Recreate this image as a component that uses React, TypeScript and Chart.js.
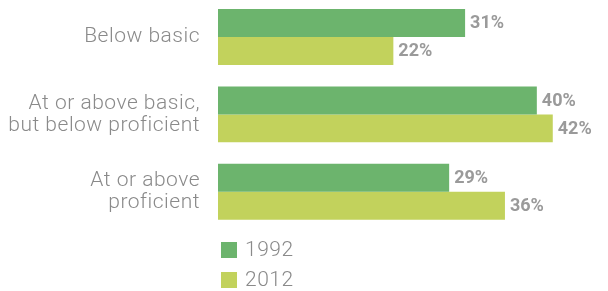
import React, { useEffect, useRef } from "react";
import { Chart, registerables } from "chart.js";

Chart.register(...registerables);

const categories: string[][] = [
  ["Below basic"],
  ["At or above basic,", "but below proficient"],
  ["At or above", "proficient"],
];
const seriesLabels = ["1992", "2012"];
const values1992 = [31, 40, 29];
const values2012 = [22, 42, 36];
const colors = ["#6cb46d", "#c2d25c"];

const FONT = "Roboto, 'Helvetica Neue', Arial, sans-serif";

const spacing = {
  id: "spacing",
  beforeDraw(chart: any) {
    (chart.ctx as any).letterSpacing = "0.5px";
  },
};

const valueLabels = {
  id: "valueLabels",
  afterDatasetsDraw(chart: any) {
    const ctx = chart.ctx;
    ctx.save();
    (ctx as any).letterSpacing = "0px";
    ctx.font = `bold 18px ${FONT}`;
    ctx.fillStyle = "#9a9a9a";
    ctx.textBaseline = "middle";
    ctx.textAlign = "left";
    chart.data.datasets.forEach((ds: any, i: number) => {
      const meta = chart.getDatasetMeta(i);
      meta.data.forEach((el: any, j: number) => {
        ctx.fillText(`${ds.data[j]}%`, el.x + 5, el.y + 1);
      });
    });
    ctx.restore();
  },
};

const stackedLegend = {
  id: "stackedLegend",
  afterDraw(chart: any) {
    const ctx = chart.ctx;
    const { left, bottom } = chart.chartArea;
    ctx.save();
    (ctx as any).letterSpacing = "0.5px";
    ctx.font = `300 21px ${FONT}`;
    ctx.textBaseline = "middle";
    ctx.textAlign = "left";
    chart.data.datasets.forEach((ds: any, i: number) => {
      const y = bottom + 11.5 + i * 30;
      ctx.fillStyle = ds.backgroundColor;
      ctx.fillRect(left + 3, y, 16, 16);
      ctx.fillStyle = "#8a8a8a";
      ctx.fillText(ds.label, left + 27, y + 9);
    });
    ctx.restore();
  },
};

export default function App() {
  const ref = useRef<HTMLCanvasElement>(null);
  useEffect(() => {
    if (!ref.current) return;
    const chart = new Chart(ref.current, {
      type: "bar",
      data: {
        labels: categories,
        datasets: [
          {
            label: seriesLabels[0],
            data: values1992,
            backgroundColor: colors[0],
            categoryPercentage: 0.7226,
            barPercentage: 1,
          },
          {
            label: seriesLabels[1],
            data: values2012,
            backgroundColor: colors[1],
            categoryPercentage: 0.7226,
            barPercentage: 1,
          },
        ],
      },
      options: {
        indexAxis: "y",
        animation: false,
        responsive: true,
        maintainAspectRatio: false,
        layout: { padding: { top: 0.25, right: 7.4, bottom: 60.5, left: 0 } },
        plugins: {
          legend: { display: false },
          tooltip: { enabled: false },
        },
        scales: {
          x: { display: false, min: 0, max: 48 },
          y: {
            grid: { display: false, drawTicks: false },
            border: { display: false },
            ticks: {
              padding: 18,
              color: "#8a8a8a",
              font: { family: FONT, size: 21, weight: "300" as any, lineHeight: 1.05 },
            },
            afterFit(scale: any) {
              scale.width = 218;
              scale.paddingTop = 0;
              scale.paddingBottom = 0;
            },
          },
        },
      },
      plugins: [spacing, valueLabels, stackedLegend],
    });
    return () => chart.destroy();
  }, []);
  return (
    <div style={{ position: "fixed", left: 0, top: -2, width: 608, height: 293 }}>
      <canvas ref={ref} />
    </div>
  );
}
